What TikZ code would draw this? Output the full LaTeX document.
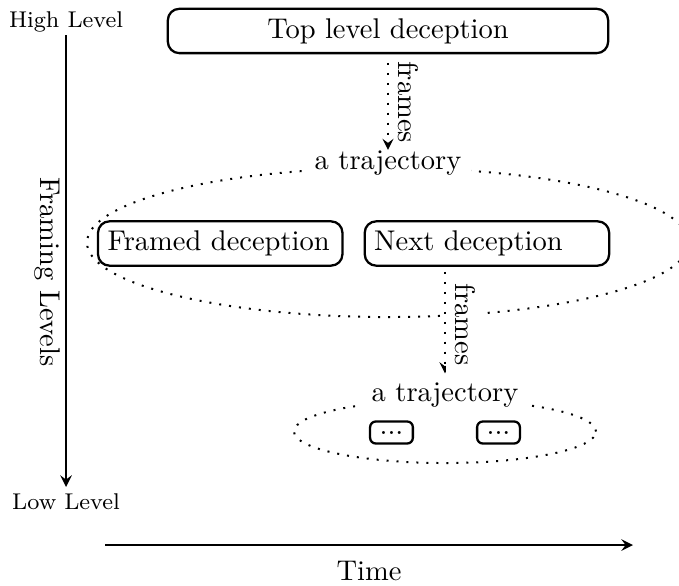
\documentclass[tikz,border=0pt]{standalone}
\usetikzlibrary{shapes.geometric,positioning}
\tikzset{
  deception/.style={draw, thick, rounded corners, text width=2.78cm},
  smallbox/.style={draw, thick, rounded corners=2pt},
  traject/.style={ellipse, draw, line width=0.7pt, dash pattern=on 0.7pt off 2.8pt, inner sep=0pt},
  trajlabel/.style={fill=white, inner ysep=0pt, yshift=1.5pt},
  frameline/.style={->, line width=0.7pt, dash pattern=on 0.7pt off 2.8pt},
}
\begin{document}
\begin{tikzpicture}[>=stealth, line join=round]
\useasboundingbox (0,0) rectangle (8.374,7.215);
% levels axis
\coordinate (axtop) at (0.814,6.783);
\coordinate (axbot) at (0.814,1.209);
\node[above, inner sep=0.7pt, font=\footnotesize] (high) at (axtop) {High Level};
\node[below, inner sep=2pt, font=\footnotesize] (low) at (axbot) {Low Level};
\draw[thick,->] (axtop)--(axbot);
\node[rotate=-90] (levels) at (0.585,3.860) {Framing Levels};
% time axis
\coordinate (tstart) at (1.295,0.493);
\coordinate (tend) at (7.807,0.493);
\draw[thick,->] (tstart)--(tend);
\node (time) at (4.551,0.173) {Time};
% top level
\node[draw, thick, rounded corners, minimum width=5.43cm] (top) at (4.785,6.833) {Top level deception};
% first trajectory
\node[traject, minimum width=7.425cm, minimum height=1.838cm] (ell1) at (4.785,4.224) {};
\node[trajlabel] (traj1) at (ell1.north) {a trajectory};
\node[deception] (framed) at (2.716,4.212) {Framed deception};
\node[deception, right=0.247cm of framed] (next) {Next deception};
\draw[frameline, shorten <=3pt] (top)--(traj1) node[midway, sloped, above] {frames};
% second trajectory
\node[traject, minimum width=3.725cm, minimum height=0.777cm] (ell2) at (5.488,1.893) {};
\node[trajlabel] (traj2) at (ell2.north) {a trajectory};
\node[smallbox] (dots1) at (4.828,1.881) {...};
\node[smallbox] (dots2) at (6.148,1.881) {...};
\draw[frameline, shorten <=1.8pt, shorten >=3pt] (next.south -| traj2)--(traj2) node[midway, sloped, above, fill=white] {frames};
\end{tikzpicture}
\end{document}
